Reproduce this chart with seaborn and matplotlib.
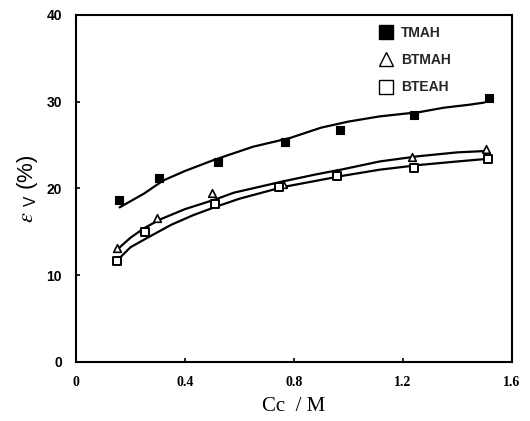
import numpy as np
import pandas as pd
import matplotlib
matplotlib.use("Agg")
import matplotlib.pyplot as plt
from matplotlib.lines import Line2D
import seaborn as sns

# ---- data ----
series_names = ["TMAH", "BTMAH", "BTEAH"]

tmah_x = [0.158, 0.306, 0.522, 0.767, 0.971, 1.242, 1.516]
tmah_y = [18.7, 21.2, 23.0, 25.3, 26.7, 28.5, 30.4]

btmah_x = [0.152, 0.298, 0.500, 0.760, 0.960, 1.233, 1.506]
btmah_y = [13.1, 16.6, 19.5, 20.5, 21.8, 23.6, 24.5]

bteah_x = [0.149, 0.255, 0.510, 0.745, 0.960, 1.240, 1.512]
bteah_y = [11.6, 15.0, 18.2, 20.1, 21.4, 22.3, 23.4]

# fitted curves
tmah_fit_x = [0.16, 0.25, 0.32, 0.40, 0.50, 0.565, 0.65, 0.785, 0.90, 1.00, 1.115, 1.262, 1.35, 1.445, 1.50]
tmah_fit_y = [17.8, 19.4, 20.9, 22.0, 23.2, 23.9, 24.8, 25.8, 27.0, 27.7, 28.3, 28.8, 29.3, 29.65, 29.9]

btmah_fit_x = [0.15, 0.20, 0.25, 0.308, 0.40, 0.51, 0.58, 0.76, 0.88, 0.98, 1.115, 1.256, 1.40, 1.50]
btmah_fit_y = [12.9, 14.3, 15.4, 16.4, 17.6, 18.7, 19.5, 20.8, 21.6, 22.2, 23.1, 23.7, 24.15, 24.3]

bteah_fit_x = [0.155, 0.20, 0.271, 0.35, 0.43, 0.516, 0.60, 0.76, 0.87, 0.98, 1.115, 1.262, 1.40, 1.51]
bteah_fit_y = [11.8, 13.2, 14.45, 15.8, 16.9, 17.9, 18.8, 20.15, 20.8, 21.45, 22.15, 22.7, 23.1, 23.4]

x_ticks = [0, 0.4, 0.8, 1.2, 1.6]
x_tick_labels = ["0", "0.4", "0.8", "1.2", "1.6"]
y_ticks = [0, 10, 20, 30, 40]
y_tick_labels = ["0", "10", "20", "30", "40"]

# ---- build tables ----
pts = pd.concat([
    pd.DataFrame({"x": tmah_x, "y": tmah_y, "s": "TMAH"}),
    pd.DataFrame({"x": btmah_x, "y": btmah_y, "s": "BTMAH"}),
    pd.DataFrame({"x": bteah_x, "y": bteah_y, "s": "BTEAH"}),
])
fits = pd.concat([
    pd.DataFrame({"x": tmah_fit_x, "y": tmah_fit_y, "s": "TMAH"}),
    pd.DataFrame({"x": btmah_fit_x, "y": btmah_fit_y, "s": "BTMAH"}),
    pd.DataFrame({"x": bteah_fit_x, "y": bteah_fit_y, "s": "BTEAH"}),
])

sns.set_theme(style="ticks")
plt.rcParams["font.family"] = ["Liberation Serif", "DejaVu Serif"]
plt.rcParams["mathtext.fontset"] = "stix"

fig = plt.figure(figsize=(5.30, 4.21), dpi=100)
ax = fig.add_axes([0.1434, 0.1409, 0.8221, 0.8235])

for name in series_names:
    d = fits[fits["s"] == name]
    sns.lineplot(data=d, x="x", y="y", ax=ax, color="black", lw=1.6,
                 sort=True, estimator=None, legend=False)

styles = {
    "TMAH": dict(marker="s", s=30, facecolor="black", edgecolor="black", linewidth=0.8),
    "BTMAH": dict(marker="^", s=30, facecolor="white", edgecolor="black", linewidth=1.2),
    "BTEAH": dict(marker="s", s=26, facecolor="white", edgecolor="black", linewidth=1.4),
}
for name in series_names:
    d = pts[pts["s"] == name]
    sns.scatterplot(data=d, x="x", y="y", ax=ax, legend=False, zorder=3, **styles[name])

ax.set_xlim(0, 1.6)
ax.set_ylim(0, 40)
ax.set_xticks(x_ticks)
ax.set_xticklabels(x_tick_labels, fontsize=10, family="Liberation Serif", fontweight="bold")
ax.set_yticks(y_ticks)
ax.set_yticklabels(y_tick_labels, fontsize=10, family="Liberation Sans", fontweight="bold")
ax.tick_params(axis="x", direction="in", length=3, width=1.2, pad=10, colors="black")
ax.tick_params(axis="y", direction="in", length=3, width=1.2, pad=10, colors="black")
for sp in ax.spines.values():
    sp.set_visible(True)
    sp.set_color("black")
    sp.set_linewidth(1.5)

ax.set_xlabel("Cc  / M", fontsize=15, family="Liberation Serif", labelpad=6, color="black")
ax.set_ylabel(r"$\varepsilon$ $\mathregular{_V}$ (%)", fontsize=16, family="Liberation Sans", labelpad=5, color="black")

handles = [
    Line2D([], [], ls="none", marker="s", ms=10, mfc="black", mec="black", label="TMAH"),
    Line2D([], [], ls="none", marker="^", ms=10, mfc="white", mec="black", mew=1.0, label="BTMAH"),
    Line2D([], [], ls="none", marker="s", ms=10, mfc="white", mec="black", mew=1.0, label="BTEAH"),
]
leg = ax.legend(handles=handles, loc="upper left", bbox_to_anchor=(0.67, 1.0), frameon=False,
                prop={"family": "Liberation Sans", "size": 10, "weight": "bold"},
                handletextpad=0.6, labelspacing=0.95, handlelength=1.0, borderaxespad=0.4)

fig.savefig("out.png", dpi=100)
